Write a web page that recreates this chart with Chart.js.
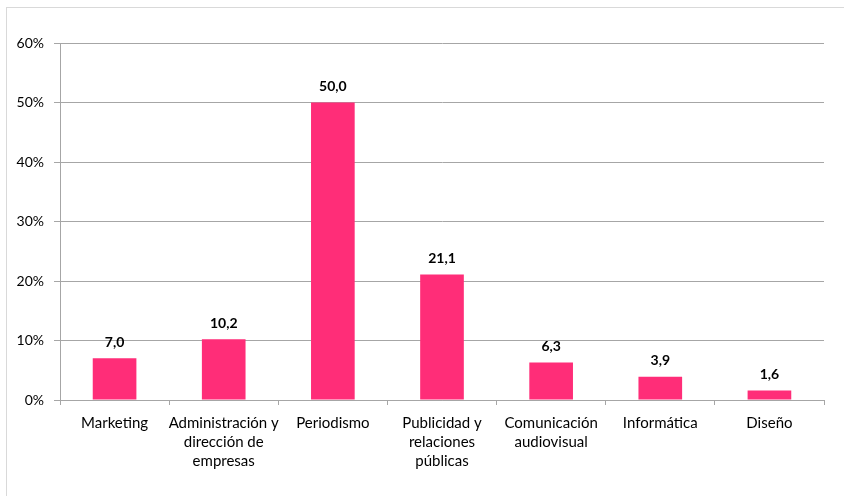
<!DOCTYPE html>
<html><head><meta charset="utf-8">
<style>html,body{margin:0;padding:0;background:#fff;}#wrap{width:844px;height:496px;position:relative;}</style>
<script src="https://cdn.jsdelivr.net/npm/chart.js@4.4.0/dist/chart.umd.min.js"></script>
</head><body><div id="wrap"><canvas id="c" width="844" height="496"></canvas></div>
<script>
const categories = [["Marketing"],["Administración y","dirección de","empresas"],["Periodismo"],["Publicidad y","relaciones","públicas"],["Comunicación","audiovisual"],["Informática"],["Diseño"]];
const values = [7.0, 10.2, 50.0, 21.1, 6.3, 3.9, 1.6];
const valueLabels = ["7,0","10,2","50,0","21,1","6,3","3,9","1,6"];
const yTicks = [0,10,20,30,40,50,60];

const FONT = "Lato, 'Liberation Sans', sans-serif";
const gridColor = '#A6A6A6';

const borderPlugin = {
  id:'outerBorder',
  beforeDraw(chart){
    const ctx = chart.ctx;
    ctx.save();
    ctx.fillStyle='#fff';
    ctx.fillRect(0,0,chart.width,chart.height);
    ctx.strokeStyle='#D9D9D9';
    ctx.lineWidth=1;
    ctx.strokeRect(6.5,7.5,chart.width+10,chart.height+10);
    ctx.restore();
  }
};
const labelPlugin = {
  id:'valLabels',
  afterDatasetsDraw(chart){
    const ctx = chart.ctx;
    const meta = chart.getDatasetMeta(0);
    ctx.save();
    ctx.font = "bold 14px " + FONT;
    ctx.fillStyle = '#000';
    ctx.textAlign='center';
    ctx.textBaseline='middle';
    meta.data.forEach((bar,i)=>{
      ctx.fillText(valueLabels[i], bar.x, bar.y - 16);
    });
    ctx.restore();
  }
};

new Chart(document.getElementById('c'), {
  type:'bar',
  data:{ labels: categories, datasets:[{ data: values, backgroundColor:'#FF2D78', barPercentage:0.4, categoryPercentage:1.0 }]},
  options:{
    responsive:false, animation:false, devicePixelRatio:1,
    layout:{ padding:{ top:43, right:20, left:0, bottom:0 } },
    plugins:{ legend:{display:false}, tooltip:{enabled:false} },
    scales:{
      x:{
        grid:{ drawOnChartArea:false, drawTicks:true, tickLength:5, color:gridColor, offset:true },
        border:{ color:gridColor, width:1 },
        ticks:{ color:'#000', font:{ family:FONT, size:15, lineHeight:1.25 }, padding:9, maxRotation:0, autoSkip:false },
        afterFit(s){ s.height = 96; }
      },
      y:{
        min:0, max:60,
        afterBuildTicks(s){ s.ticks = yTicks.map(v=>({value:v})); },
        grid:{ color:gridColor, tickLength:6, drawTicks:true },
        border:{ color:gridColor, width:1 },
        ticks:{ color:'#000', font:{ family:FONT, size:14 }, padding:10, callback:v=>v+'%' },
        afterFit(s){ s.width = 60; }
      }
    }
  },
  plugins:[borderPlugin, labelPlugin]
});
</script></body></html>
